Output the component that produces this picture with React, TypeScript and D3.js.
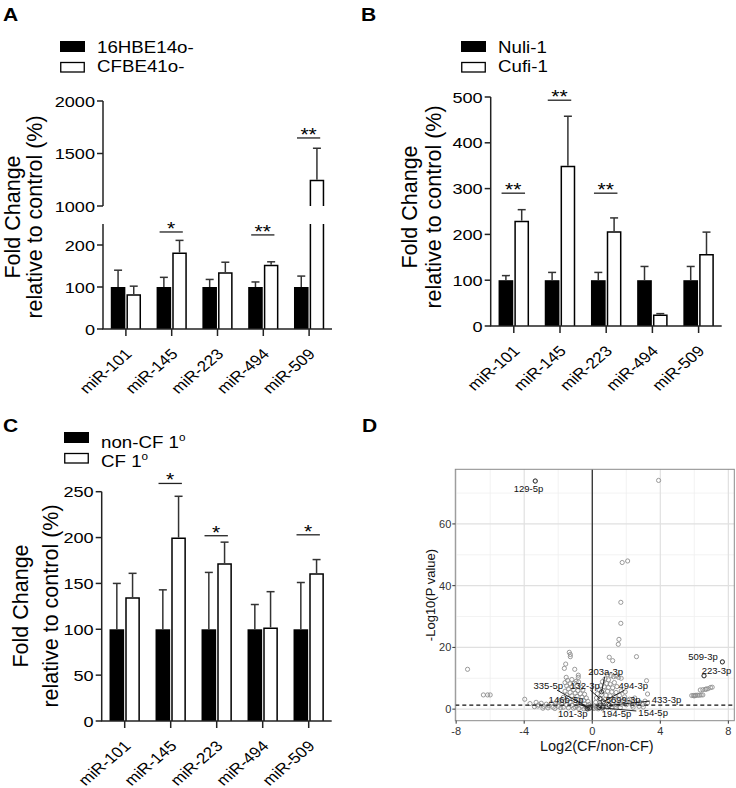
import React from 'react';
import * as d3 from 'd3';

const FONT = "'Liberation Sans', Arial, Helvetica, sans-serif";
const SX = 1.17; // horizontal glyph stretch seen in the bar panels

// ---------- shared ----------
const categories = ['miR-101', 'miR-145', 'miR-223', 'miR-494', 'miR-509'];

// ---------- Panel A ----------
const aLegend = ['16HBE14o-', 'CFBE41o-'];
const aCtrlMean = [100, 100, 100, 100, 100];
const aCtrlErr = [140, 123, 118, 112, 126];
const aCfMean = [83, 182, 135, 153, 1250];
const aCfErr = [102, 211, 159, 160, 1550];
const aSigText = ['', '*', '', '**', '**'];
const aSigLevel = [0, 231, 0, 224, 1648];
const aTicksLower = [0, 100, 200];
const aTicksUpper = [1000, 1500, 2000];
const aDomainLower = [0, 250];
const aDomainUpper = [1000, 2000];

// ---------- Panel B ----------
const bLegend = ['Nuli-1', 'Cufi-1'];
const bCtrlMean = [100, 100, 100, 100, 100];
const bCtrlErr = [110, 117, 117, 130, 130];
const bCfMean = [230, 350, 207, 25, 157];
const bCfErr = [254, 458, 236, 27, 205];
const bSigText = ['**', '**', '**', '', ''];
const bSigLevel = [290, 493, 290, 0, 0];
const bTicks = [0, 100, 200, 300, 400, 500];
const bDomain = [0, 500];

// ---------- Panel C ----------
const cLegend = ['non-CF 1', 'CF 1'];
const cLegendSup = ['o', 'o'];
const cCtrlMean = [100, 100, 100, 100, 100];
const cCtrlErr = [150, 143, 162, 127, 151];
const cCfMean = [135, 200, 172, 102, 161];
const cCfErr = [161, 245, 195, 141, 176];
const cSigText = ['', '*', '*', '', '*'];
const cSigLevel = [0, 259, 202, 0, 203];
const cTicks = [0, 50, 100, 150, 200, 250];
const cDomain = [0, 250];

// ---------- Panel D (volcano) ----------
const dXTicks = [-8, -4, 0, 4, 8];
const dXMinor = [-6, -2, 2, 6];
const dYTicks = [0, 20, 40, 60];
const dYMinor = [10, 30, 50, 70];
const dThreshold = 1.3;
const dLog2FC = [
  // isolated
  -3.35, 3.9, 1.76, 2.08, 1.68, 1.68, 1.57, 1.53, 2.6, 1.0, 1.2, -1.35, -1.29, -1.29, -1.56, -1.64, -1.03, -0.82, -0.82, -1.53,
  -7.33, -6.4, -6.15, -6.0, -3.97, -3.66, 7.65, 6.57,
  // far right group
  5.85, 5.95, 6.05, 6.1, 6.2, 6.3, 6.4, 6.5, 6.0, 6.35, 6.5, 6.65, 6.8, 6.95, 7.05, 6.7,
  // left dense
  -1.45, -1.2, -0.95, -1.6, -1.3, -1.05, -0.8, -1.5, -1.2, -0.9, -0.65, -1.4, -1.1, -0.85, -0.55, -1.6, -1.3, -1.0, -0.7, -0.45,
  -1.5, -1.2, -0.9, -0.6, -0.35, -1.7, -1.4, -1.1, -0.8, -0.5, -0.25, -1.9, -1.6, -1.3, -1.0, -0.7, -0.45, -0.2, -1.8, -1.5,
  -1.2, -0.9, -0.6, -0.35, -0.15, -1.7, -1.4, -1.1, -0.8, -0.5, -0.25, -1.0,
  // left spread
  -3.3, -3.15, -3.0, -2.85, -2.7, -2.55, -2.4, -2.3, -2.15, -2.0, -1.95, -2.6, -2.9, -3.4, -2.2, -1.85, -3.2,
  // right dense
  0.9, 1.1, 1.25, 1.4, 1.55, 1.7, 0.75, 0.95, 0.6, 0.85, 1.05, 1.3, 0.5, 0.7, 0.95, 1.2, 1.45, 0.4, 0.65, 0.9,
  1.15, 1.4, 1.7, 0.3, 0.55, 0.8, 1.05, 1.3, 1.6, 1.9, 0.25, 0.5, 0.75, 1.0, 1.25, 1.5, 1.8, 2.1, 0.2, 0.45,
  0.7, 0.95, 1.2, 1.45, 1.7, 2.0, 0.15, 0.4, 0.65, 0.9, 1.15, 1.4, 1.65, 0.1, 0.35, 0.6, 0.25, 0.05,
  // right spread
  2.2, 2.35, 2.5, 2.65, 2.8, 2.95, 3.1, 3.25, 2.4, 2.75, 3.0, 2.2, 2.5, 1.94, 3.25, 3.19,
];
const dNegLogP = [
  73.9, 74.1, 47.5, 48.0, 34.6, 27.8, 22.6, 21.0, 17.0, 16.8, 15.7, 18.4, 17.0, 17.7, 14.6, 13.2, 12.9, 11.0, 10.3, 10.3,
  12.9, 4.6, 4.6, 4.6, 3.2, 1.8, 15.3, 10.8,
  4.4, 4.4, 4.4, 4.5, 4.5, 4.5, 4.6, 4.6, 4.3, 6.2, 6.3, 6.4, 6.6, 7.0, 7.1, 6.5,
  9.3, 9.6, 9.0, 8.6, 8.2, 8.4, 8.8, 7.5, 7.2, 7.6, 7.0, 6.6, 6.3, 6.0, 6.2, 5.8, 5.4, 5.2, 5.0, 4.8,
  4.6, 4.3, 4.1, 3.9, 3.6, 3.8, 3.4, 3.2, 3.0, 2.8, 2.5, 2.8, 2.5, 2.3, 2.1, 1.9, 1.7, 1.5, 1.6, 1.4,
  1.2, 1.0, 0.9, 0.7, 0.5, 0.6, 0.4, 0.3, 0.2, 0.1, 0.05, 0.6,
  2.2, 1.4, 1.9, 0.9, 1.6, 1.1, 2.0, 0.6, 1.4, 0.9, 2.3, 0.4, 0.3, 0.8, 0.2, 0.4, 1.0,
  11.2, 10.8, 10.5, 10.7, 10.3, 10.0, 9.8, 9.5, 8.9, 8.3, 8.1, 8.6, 7.6, 7.2, 7.0, 6.9, 7.3, 6.3, 6.0, 5.8,
  5.6, 5.4, 5.9, 5.0, 4.7, 4.5, 4.3, 4.1, 4.4, 4.0, 3.6, 3.3, 3.1, 2.9, 2.7, 3.0, 2.6, 2.9, 2.2, 2.0,
  1.8, 1.6, 1.5, 1.3, 1.6, 1.4, 1.0, 0.8, 0.6, 0.5, 0.4, 0.3, 0.5, 0.2, 0.1, 0.15, 0.4, 0.6,
  2.1, 1.2, 2.5, 1.7, 2.2, 1.5, 2.6, 2.0, 0.6, 0.9, 0.7, 3.2, 3.6, 5.6, 4.9, 9.2,
];
const dLabelNames = ['129-5p', '509-3p', '223-3p', '203a-3p', '335-5p', '132-3p', '494-3p', '146b-5p', '5699-3p', '433-3p', '101-3p', '194-5p', '154-5p'];
const dLabelPointX = [-3.35, 7.65, 6.57, 0.55, -0.25, 0.45, 0.65, -0.15, 0.45, 1.0, -0.3, 0.6, 0.4];
const dLabelPointY = [73.9, 15.3, 10.8, 5.6, 0.6, 3.4, 2.4, 0.3, 1.3, 1.2, 0.1, 0.6, 0.5];
const dLabelTextX = [-3.75, 6.51, 7.3, 0.79, -2.58, -0.43, 2.41, -1.54, 1.82, 4.37, -1.15, 1.43, 3.58];
const dLabelTextY = [71.4, 17.0, 12.6, 12.0, 7.7, 7.7, 7.7, 3.2, 3.2, 3.2, -1.6, -1.6, -1.1];

type Piece = { domain: number[]; range: number[] };

function makeY(pieces: Piece[]) {
  const scales = pieces.map((p) => d3.scaleLinear().domain(p.domain).range(p.range));
  const f = (v: number) => {
    for (let i = 0; i < pieces.length; i++) {
      if (v <= pieces[i].domain[1] || i === pieces.length - 1) return scales[i](Math.max(v, pieces[i].domain[0]));
    }
    return 0;
  };
  return { f, scales };
}

function BarPanel(props: any) {
  const {
    letter, letterX, letterY, legend, legendSup, legendX, legendY, legendTextDy,
    x0, x1, pieces, ticksPerPiece, ctrl, ctrlErr, cf, cfErr, sigText, sigLevel,
    titleX1, titleX2, titleCY,
  } = props;
  const { f: y, scales } = makeY(pieces);
  const xBand = d3.scaleBand().domain(categories).range([x0, x1]).paddingInner(0.34).paddingOuter(0.17);
  const bw = xBand.bandwidth();
  const sub = d3.scaleBand().domain(['ctrl', 'cf']).range([0, bw]).paddingInner(0.07);
  const sw = sub.bandwidth();
  const axisY = y(0);
  const axisColor = '#222';
  const errColor = '#333';

  const barPieces = (v: number) =>
    pieces
      .map((p: Piece, i: number) => {
        const lo = Math.max(0, p.domain[0]);
        const hi = Math.min(v, p.domain[1]);
        if (hi <= lo) return null;
        return { yb: scales[i](lo), yt: scales[i](hi), isTop: hi === v };
      })
      .filter(Boolean) as any[];

  return (
    <g fontFamily={FONT}>
      <text transform={`translate(${letterX},${letterY}) scale(${SX},1)`} fontSize={18} fontWeight="bold">{letter}</text>
      {/* legend */}
      <rect x={legendX} y={legendY} width={25} height={11} fill="#000" />
      <rect x={legendX + 0.75} y={legendY + 21.5} width={23.5} height={9.5} fill="#fff" stroke="#000" strokeWidth={1.3} />
      {legend.map((t: string, i: number) => (
        <text key={t} transform={`translate(${legendX + 37},${legendY + legendTextDy[i]}) scale(${SX},1)`} fontSize={16}>
          {t}
          {legendSup ? <tspan fontSize={10} dy={-7}>{legendSup[i]}</tspan> : null}
        </text>
      ))}
      {/* y title */}
      <text transform={`translate(${titleX1},${titleCY}) rotate(-90)`} textAnchor="middle" fontSize={21.5}>Fold Change</text>
      <text transform={`translate(${titleX2},${titleCY}) rotate(-90)`} textAnchor="middle" fontSize={21.5}>relative to control (%)</text>
      {/* bars */}
      {categories.map((c, i) => {
        const left = xBand(c)!;
        const xb = left + sub('ctrl')!;
        const xw = left + sub('cf')!;
        const cpieces = barPieces(cf[i]);
        const kpieces = barPieces(ctrl[i]);
        return (
          <g key={c}>
            {kpieces.map((p, j) => (
              <rect key={j} x={xb} y={p.yt} width={sw} height={p.yb - p.yt} fill="#000" />
            ))}
            {cpieces.map((p, j) => (
              <g key={j}>
                <rect x={xw} y={p.yt} width={sw} height={p.yb - p.yt} fill="#fff" />
                <path
                  d={
                    `M${xw + 0.75},${p.yb} L${xw + 0.75},${p.yt + (p.isTop ? 0.75 : 0)} ` +
                    (p.isTop ? `L${xw + sw - 0.75},${p.yt + 0.75} ` : `M${xw + sw - 0.75},${p.yt} `) +
                    `L${xw + sw - 0.75},${p.yb}`
                  }
                  fill="none"
                  stroke="#000"
                  strokeWidth={1.5}
                />
              </g>
            ))}
            {/* error bars */}
            {[
              [xb + sw / 2, ctrl[i], ctrlErr[i]],
              [xw + sw / 2, cf[i], cfErr[i]],
            ].map(([cx, m, e], j) => (
              <g key={'e' + j} stroke={errColor} strokeWidth={1.5}>
                <line x1={cx} x2={cx} y1={y(m)} y2={y(e)} />
                <line x1={cx - 4} x2={cx + 4} y1={y(e)} y2={y(e)} />
              </g>
            ))}
            {/* significance */}
            {sigText[i] ? (
              <g>
                <line x1={left + 3} x2={left + bw - 4} y1={y(sigLevel[i])} y2={y(sigLevel[i])} stroke="#222" strokeWidth={1.3} />
                <text transform={`translate(${left + bw / 2 - 0.5},${y(sigLevel[i]) + 3}) scale(${SX},1)`} textAnchor="middle" fontSize={18}>{sigText[i]}</text>
              </g>
            ) : null}
            {/* category tick and label */}
            <line x1={left + bw / 2} x2={left + bw / 2} y1={axisY} y2={axisY + 7} stroke={axisColor} strokeWidth={1.5} />
            <text
              transform={`translate(${left + bw / 2 + 7},${axisY + 26}) scale(${SX},1) rotate(-45)`}
              textAnchor="end"
              fontSize={14.8}
            >
              {c}
            </text>
          </g>
        );
      })}
      {/* y axis */}
      {pieces.map((p: Piece, i: number) => (
        <g key={'ax' + i}>
          <line x1={x0} x2={x0} y1={scales[i](p.domain[0])} y2={scales[i](p.domain[1])} stroke={axisColor} strokeWidth={1.5} />
          {ticksPerPiece[i].map((t: number) => (
            <g key={t}>
              <line x1={x0 - 6} x2={x0} y1={scales[i](t)} y2={scales[i](t)} stroke={axisColor} strokeWidth={1.5} />
              <text transform={`translate(${x0 - 8},${scales[i](t)}) scale(${SX},1)`} dy="0.36em" textAnchor="end" fontSize={15.5}>{t}</text>
            </g>
          ))}
        </g>
      ))}
      {/* x axis */}
      <line x1={x0 - 0.75} x2={x1} y1={axisY} y2={axisY} stroke={axisColor} strokeWidth={1.5} />
    </g>
  );
}

function Volcano() {
  const L = 455.3, R = 734.3, T = 469.3, B = 720.7;
  const x = d3.scaleLinear().domain([-8.05, 8.35]).range([L, R]);
  const y = d3.scaleLinear().domain([-3.75, 77.7]).range([B, T]);
  const fs = 9.5;
  return (
    <g fontFamily={FONT}>
      <text transform={`translate(362,432) scale(${SX},1)`} fontSize={18} fontWeight="bold">D</text>
      <rect x={L} y={T} width={R - L} height={B - T} fill="#fff" />
      {dXMinor.map((t) => (
        <line key={'xm' + t} x1={x(t)} x2={x(t)} y1={T} y2={B} stroke="#efefef" strokeWidth={0.8} />
      ))}
      {dYMinor.map((t) => (
        <line key={'ym' + t} x1={L} x2={R} y1={y(t)} y2={y(t)} stroke="#efefef" strokeWidth={0.8} />
      ))}
      {dXTicks.map((t) => (
        <line key={'xM' + t} x1={x(t)} x2={x(t)} y1={T} y2={B} stroke="#e0e0e0" strokeWidth={1.2} />
      ))}
      {dYTicks.map((t) => (
        <line key={'yM' + t} x1={L} x2={R} y1={y(t)} y2={y(t)} stroke="#e0e0e0" strokeWidth={1.2} />
      ))}
      {/* points */}
      {dLog2FC.map((v, i) => (
        <circle key={i} cx={x(v)} cy={y(dNegLogP[i])} r={2.1} fill="none" stroke="#8f8f8f" strokeWidth={0.9} />
      ))}
      {/* reference lines */}
      <line x1={x(0)} x2={x(0)} y1={T} y2={B} stroke="#111" strokeWidth={1.1} />
      <line x1={L} x2={R} y1={y(dThreshold)} y2={y(dThreshold)} stroke="#111" strokeWidth={1.1} strokeDasharray="4,3" />
      {/* labeled points and repel segments */}
      {dLabelNames.map((name, i) => {
        const px = x(dLabelPointX[i]);
        const py = y(dLabelPointY[i]);
        const lx = x(dLabelTextX[i]);
        const ly = y(dLabelTextY[i]);
        const hw = name.length * 0.278 * fs + 1;
        const hh = fs * 0.5;
        const dx = px - lx;
        const dy = py - ly;
        const t = Math.min(Math.abs(dx) > 0 ? hw / Math.abs(dx) : Infinity, Math.abs(dy) > 0 ? hh / Math.abs(dy) : Infinity);
        const dist = Math.hypot(dx, dy);
        const showSeg = t < 1 && (1 - t) * dist > 5;
        return (
          <g key={name}>
            <circle cx={px} cy={py} r={2.1} fill="none" stroke="#333" strokeWidth={0.9} />
            {showSeg ? (
              <line x1={lx + t * dx} y1={ly + t * dy} x2={px} y2={py} stroke="#111" strokeWidth={0.9} />
            ) : null}
            <text x={lx} y={ly} dy="0.35em" textAnchor="middle" fontSize={fs} fill="#111">{name}</text>
          </g>
        );
      })}
      <rect x={L} y={T} width={R - L} height={B - T} fill="none" stroke="#8a8a8a" strokeWidth={1} />
      {/* axes ticks and labels */}
      {dXTicks.map((t) => (
        <g key={'xt' + t}>
          <line x1={x(t)} x2={x(t)} y1={B} y2={B + 3} stroke="#333" strokeWidth={1} />
          <text x={x(t)} y={B + 14} textAnchor="middle" fontSize={11} fill="#333">{t}</text>
        </g>
      ))}
      {dYTicks.map((t) => (
        <g key={'yt' + t}>
          <line x1={L - 3} x2={L} y1={y(t)} y2={y(t)} stroke="#333" strokeWidth={1} />
          <text x={L - 4} y={y(t)} dy="0.36em" textAnchor="end" fontSize={11} fill="#333">{t}</text>
        </g>
      ))}
      <text x={(L + R) / 2 + 2} y={751} textAnchor="middle" fontSize={14.5} fill="#111">Log2(CF/non-CF)</text>
      <text transform={`translate(434.5,${(T + B) / 2}) rotate(-90)`} textAnchor="middle" fontSize={13} fill="#111">-Log10(P value)</text>
    </g>
  );
}

export default function App() {
  return (
    <svg width={736} height={788} style={{ position: 'absolute', left: 0, top: 0, background: '#fff' }}>
      <rect x={0} y={0} width={736} height={788} fill="#fff" />
      <BarPanel
        letter="A" letterX={3} letterY={21}
        legend={aLegend} legendX={60} legendY={41} legendTextDy={[12, 31]}
        x0={103} x1={332}
        pieces={[{ domain: aDomainLower, range: [329, 224] }, { domain: aDomainUpper, range: [206, 101] }]}
        ticksPerPiece={[aTicksLower, aTicksUpper]}
        ctrl={aCtrlMean} ctrlErr={aCtrlErr} cf={aCfMean} cfErr={aCfErr}
        sigText={aSigText} sigLevel={aSigLevel}
        titleX1={20} titleX2={42} titleCY={217}
      />
      <BarPanel
        letter="B" letterX={361} letterY={21}
        legend={bLegend} legendX={461} legendY={41} legendTextDy={[12, 31]}
        x0={490.7} x1={721.7}
        pieces={[{ domain: bDomain, range: [326, 97] }]}
        ticksPerPiece={[bTicks]}
        ctrl={bCtrlMean} ctrlErr={bCtrlErr} cf={bCfMean} cfErr={bCfErr}
        sigText={bSigText} sigLevel={bSigLevel}
        titleX1={417} titleX2={441} titleCY={207}
      />
      <BarPanel
        letter="C" letterX={3} letterY={432}
        legend={cLegend} legendSup={cLegendSup} legendX={64} legendY={432} legendTextDy={[16, 35]}
        x0={101.7} x1={331.7}
        pieces={[{ domain: cDomain, range: [721, 491.7] }]}
        ticksPerPiece={[cTicks]}
        ctrl={cCtrlMean} ctrlErr={cCtrlErr} cf={cCfMean} cfErr={cCfErr}
        sigText={cSigText} sigLevel={cSigLevel}
        titleX1={27.5} titleX2={57.5} titleCY={606}
      />
      <Volcano />
    </svg>
  );
}
